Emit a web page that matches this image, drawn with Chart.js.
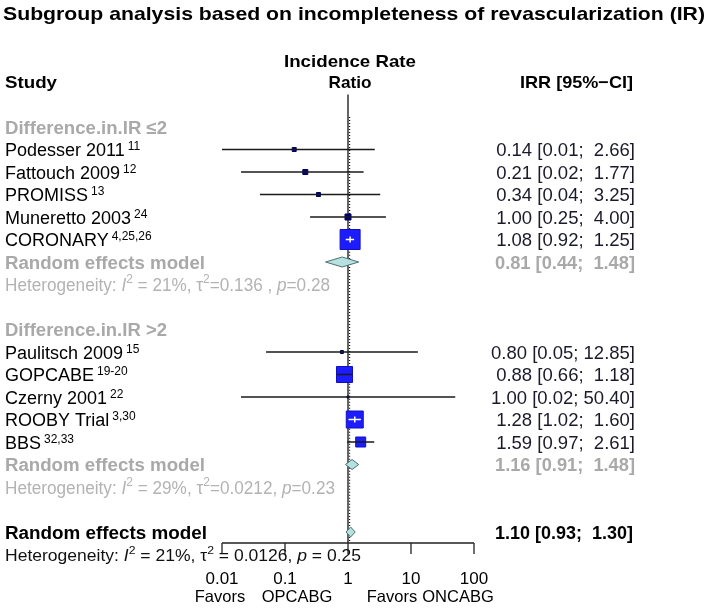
<!DOCTYPE html>
<html>
<head>
<meta charset="utf-8">
<script src="https://cdn.jsdelivr.net/npm/chart.js@4"></script>
<style>
  html, body { margin: 0; padding: 0; background: #fff; }
  #wrap { width: 709px; height: 608px; position: relative; }
</style>
</head>
<body>
<div id="wrap"><canvas id="chart"></canvas></div>
<script>
// data
const studies = ['Podesser 2011', 'Fattouch 2009', 'PROMISS', 'Muneretto 2003', 'CORONARY',
                 'Paulitsch 2009', 'GOPCABE', 'Czerny 2001', 'ROOBY Trial', 'BBS'];
const refs = ['11', '12', '13', '24', '4,25,26', '15', '19-20', '22', '3,30', '32,33'];
const irr = [0.14, 0.21, 0.34, 1.00, 1.08, 0.80, 0.88, 1.00, 1.28, 1.59];
const lower = [0.01, 0.02, 0.04, 0.25, 0.92, 0.05, 0.66, 0.02, 1.02, 0.97];
const upper = [2.66, 1.77, 3.25, 4.00, 1.25, 12.85, 1.18, 50.40, 1.60, 2.61];
const subgroup = [0, 0, 0, 0, 0, 1, 1, 1, 1, 1];

const groupNames = ['Difference.in.IR \u22642', 'Difference.in.IR >2'];
const groupIrr = [0.81, 1.16];
const groupLower = [0.44, 0.91];
const groupUpper = [1.48, 1.48];
const groupI2 = ['21%', '29%'];
const groupTau2 = ['0.136 ', '0.0212'];
const groupP = ['0.28', '0.23'];

const overallIrr = 1.10, overallLower = 0.93, overallUpper = 1.30;
const overallI2 = '21%', overallTau2 = '0.0126', overallP = '0.25';

const tickValues = [0.01, 0.1, 1, 10, 100];
const tickLabels = ['0.01', '0.1', '1', '10', '100'];
const favorsWords = ['Favors', 'OPCABG', 'Favors', 'ONCABG'];

// layout / style
const W = 709, H = 608;
const xOne = 348, pxDec = 63;      // pixel of IRR=1 and pixels per decade
const row0 = 127, rowH = 22.5;     // first row centre and row height
const boxPx = [4, 5, 4, 6, 20, 3, 16, 2, 17, 10];
const favorsX = [220, 297, 392, 458];
const FONT = '"Liberation Sans", Arial, sans-serif';
const GREY = '#a9a9a9';

// assign rows
const studyRow = [];
const groupRow = [];
let r = 0;
groupNames.forEach((g, gi) => {
    const hdr = r++;
    subgroup.forEach((s, i) => { if (s === gi) studyRow[i] = r++; });
    groupRow.push({ header: hdr, re: r++, het: r++ });
    r++;
});
const overallRow = { re: r, het: r + 1 };

const fmt = v => v.toFixed(2);
const pad = s => (s.length < 5 ? '  ' : ' ') + s;
const ciText = (e, l, u) => fmt(e) + ' [' + fmt(l) + ';' + pad(fmt(u)) + ']';

function txt(ctx, s, x, y, o) {
    ctx.save();
    ctx.font = (o.italic ? 'italic ' : '') + (o.bold ? 'bold ' : '') + o.size + 'px ' + FONT;
    ctx.fillStyle = o.color || '#000';
    ctx.textBaseline = 'alphabetic';
    const w = ctx.measureText(s).width;
    const sx = o.w ? o.w / w : 1;
    const left = o.align === 'right' ? x - w * sx : o.align === 'center' ? x - w * sx / 2 : x;
    ctx.translate(left, y);
    ctx.scale(sx, 1);
    ctx.fillText(s, 0, 0);
    ctx.restore();
    return w * sx;
}

// rich text: segments [text, italic, sup]
function rich(ctx, segs, x, y, size, color, width) {
    const fontOf = sg => (sg[1] ? 'italic ' : '') + (sg[2] ? size * 0.7 : size) + 'px ' + FONT;
    let total = 0;
    segs.forEach(sg => { ctx.font = fontOf(sg); total += ctx.measureText(sg[0]).width; });
    const sx = width ? width / total : 1;
    ctx.save();
    ctx.translate(x, y);
    ctx.scale(sx, 1);
    ctx.fillStyle = color;
    let cx = 0;
    segs.forEach(sg => {
        ctx.font = fontOf(sg);
        ctx.fillText(sg[0], cx, sg[2] ? -size * 0.42 : 0);
        cx += ctx.measureText(sg[0]).width;
    });
    ctx.restore();
}

function hetSegs(i2, tau2, p, spaced) {
    const eq = spaced ? ' = ' : '=';
    return [['Heterogeneity: '], ['I', true], ['2', false, true], [' = ' + i2 + ', '],
            ['\u03c4'], ['2', false, true], [eq + tau2 + ', '], ['p', true], [eq + p]];
}

const forestPlugin = {
    id: 'forest',
    beforeDatasetsDraw(chart) {
        const ctx = chart.ctx, x = chart.scales.x, y = chart.scales.y;
        const axisY = y.getPixelForValue(overallRow.re) + 11;
        ctx.save();
        // reference line at 1
        ctx.strokeStyle = '#111';
        ctx.lineWidth = 1.3;
        ctx.beginPath();
        ctx.moveTo(x.getPixelForValue(1), y.getPixelForValue(-1.45));
        ctx.lineTo(x.getPixelForValue(1), axisY);
        ctx.stroke();
        // dotted line at overall estimate
        ctx.setLineDash([1, 2]);
        ctx.lineWidth = 1.2;
        ctx.beginPath();
        ctx.moveTo(x.getPixelForValue(overallIrr) - 1, y.getPixelForValue(-0.45));
        ctx.lineTo(x.getPixelForValue(overallIrr) - 1, axisY);
        ctx.stroke();
        ctx.setLineDash([]);
        // diamonds
        const diamond = (e, l, u, row) => {
            const cy = y.getPixelForValue(row);
            ctx.beginPath();
            ctx.moveTo(x.getPixelForValue(l), cy);
            ctx.lineTo(x.getPixelForValue(e), cy - 5);
            ctx.lineTo(x.getPixelForValue(u), cy);
            ctx.lineTo(x.getPixelForValue(e), cy + 5);
            ctx.closePath();
            ctx.fillStyle = '#b5e1e1';
            ctx.fill();
            ctx.strokeStyle = '#4d7070';
            ctx.lineWidth = 1;
            ctx.stroke();
        };
        groupRow.forEach((g, gi) => diamond(groupIrr[gi], groupLower[gi], groupUpper[gi], g.re));
        diamond(overallIrr, overallLower, overallUpper, overallRow.re);
        // axis
        ctx.strokeStyle = '#222';
        ctx.lineWidth = 1.3;
        ctx.beginPath();
        ctx.moveTo(x.getPixelForValue(tickValues[0]), axisY);
        ctx.lineTo(x.getPixelForValue(tickValues[tickValues.length - 1]), axisY);
        tickValues.forEach(v => {
            ctx.moveTo(x.getPixelForValue(v), axisY);
            ctx.lineTo(x.getPixelForValue(v), axisY + 11);
        });
        ctx.stroke();
        ctx.restore();
    },
    afterDatasetsDraw(chart) {
        const ctx = chart.ctx, x = chart.scales.x, y = chart.scales.y;
        ctx.save();
        studies.forEach((s, i) => {
            const cy = y.getPixelForValue(studyRow[i]);
            const x0 = x.getPixelForValue(lower[i]), x1 = x.getPixelForValue(upper[i]);
            const cx = x.getPixelForValue(irr[i]);
            const inside = x0 >= cx - boxPx[i] / 2 && x1 <= cx + boxPx[i] / 2;
            ctx.strokeStyle = inside ? '#fff' : '#1a1a1a';
            ctx.lineWidth = 1.5;
            ctx.beginPath();
            ctx.moveTo(x0, cy);
            ctx.lineTo(x1, cy);
            if (inside) {
                ctx.moveTo(cx, cy - 3);
                ctx.lineTo(cx, cy + 3);
            }
            ctx.stroke();
        });
        ctx.restore();
    },
    afterDraw(chart) {
        const ctx = chart.ctx, x = chart.scales.x, y = chart.scales.y;
        const base = row => y.getPixelForValue(row) + 6.5;
        const numX = 635;

        txt(ctx, 'Subgroup analysis based on incompleteness of revascularization (IR)', 3, 20,
            { size: 19, bold: true, w: 702 });
        txt(ctx, 'Incidence Rate', 350, 67, { size: 17, bold: true, align: 'center', w: 132 });
        txt(ctx, 'Ratio', 350, 88, { size: 17, bold: true, align: 'center', w: 43 });
        txt(ctx, 'Study', 5, 88, { size: 17, bold: true, w: 52 });
        txt(ctx, 'IRR [95%\u2212CI]', 633, 88, { size: 17, bold: true, align: 'right', w: 113 });

        groupRow.forEach((g, gi) => {
            txt(ctx, groupNames[gi], 5, base(g.header), { size: 18, bold: true, color: GREY, w: 162 });
            txt(ctx, 'Random effects model', 5, base(g.re), { size: 18, bold: true, color: GREY, w: 200 });
            txt(ctx, ciText(groupIrr[gi], groupLower[gi], groupUpper[gi]), numX, base(g.re),
                { size: 18, bold: true, color: GREY, align: 'right', w: 140 });
            rich(ctx, hetSegs(groupI2[gi], groupTau2[gi], groupP[gi], false), 5, base(g.het), 18,
                 '#b3b3b3', gi === 0 ? 325 : 330);
        });

        studies.forEach((s, i) => {
            const w = txt(ctx, s, 5, base(studyRow[i]), { size: 18 });
            txt(ctx, refs[i], 5 + w + 3, y.getPixelForValue(studyRow[i]) + 0.5, { size: 12 });
            txt(ctx, ciText(irr[i], lower[i], upper[i]), numX, base(studyRow[i]),
                { size: 18.5, color: '#1a1a2a', align: 'right' });
        });

        txt(ctx, 'Random effects model', 5, base(overallRow.re), { size: 18, bold: true, w: 202 });
        txt(ctx, ciText(overallIrr, overallLower, overallUpper), 633, base(overallRow.re),
            { size: 18, bold: true, align: 'right', w: 138 });
        rich(ctx, hetSegs(overallI2, overallTau2, overallP, true), 5, base(overallRow.het), 16, '#111', 356);

        const axisY = y.getPixelForValue(overallRow.re) + 11;
        tickValues.forEach((v, k) => {
            txt(ctx, tickLabels[k], x.getPixelForValue(v), axisY + 41, { size: 17, align: 'center' });
        });
        favorsWords.forEach((s, k) => {
            txt(ctx, s, favorsX[k], axisY + 59, { size: 16.5, align: 'center' });
        });
    }
};

new Chart(document.querySelector('#chart'), {
    type: 'scatter',
    data: {
        datasets: [{
            data: studies.map((s, i) => ({ x: irr[i], y: studyRow[i] })),
            pointStyle: 'rect',
            pointRadius: boxPx.map(b => b / Math.SQRT2),
            backgroundColor: boxPx.map(b => b >= 8 ? '#1c1cff' : '#00006e'),
            borderColor: boxPx.map(b => b >= 8 ? '#1010c0' : '#00006e'),
            borderWidth: 1
        }]
    },
    options: {
        responsive: true,
        maintainAspectRatio: false,
        animation: false,
        events: [],
        layout: { padding: 0, autoPadding: false },
        plugins: { legend: { display: false }, tooltip: { enabled: false } },
        scales: {
            x: {
                type: 'logarithmic',
                display: false,
                min: Math.pow(10, (0 - xOne) / pxDec),
                max: Math.pow(10, (W - xOne) / pxDec)
            },
            y: {
                type: 'linear',
                display: false,
                reverse: true,
                min: (0 - row0) / rowH,
                max: (H - row0) / rowH
            }
        }
    },
    plugins: [forestPlugin]
});
</script>
</body>
</html>
